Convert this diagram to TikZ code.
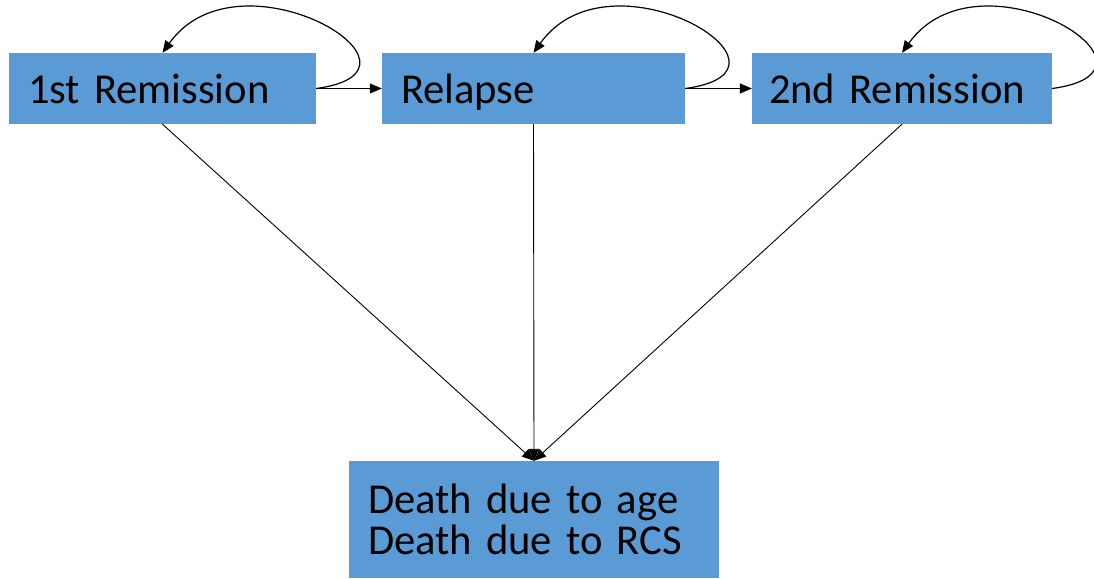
\documentclass[tikz,border=0pt]{standalone}
\usepackage{fontspec}
\setmainfont{Carlito}
\usetikzlibrary{arrows.meta}
\definecolor{boxblue}{HTML}{5B9BD5}
\tikzset{
  state/.style={fill=boxblue, draw=none, minimum height=71pt, inner xsep=19pt, inner ysep=0pt,
    text width=#1, align=left, font=\fontsize{42.6}{41}\selectfont, anchor=center},
  oneline/.style={text height=30pt, text depth=1pt},
  conn/.style={line width=1.2pt, -{Triangle[length=12pt,width=10pt]}},
  thin/.style={line width=0.9pt, -{Triangle[length=12pt,width=10pt]}}
}
\begin{document}
\begin{tikzpicture}[x=1pt,y=-1pt]
\useasboundingbox (0,0) rectangle (1094,578);
\node[state=269pt, oneline] (b1) at (162.5,88.5) {1st Remission};
\node[state=265pt, oneline] (b2) at (533.5,88.5) {Relapse};
\node[state=266pt, oneline, inner xsep=17pt] (b3) at (902,88.5) {2nd Remission};
\node[state=332pt, minimum height=117pt] (b4) at (534,519.5) {Death due to age\\Death due to RCS};
\draw[conn] (b1.east) -- (b2.west);
\draw[conn] (b2.east) -- (b3.west);
\draw[conn] (b1.east) .. controls +(134,-18) and +(77,-108) .. (b1.north);
\draw[conn] (b2.east) .. controls +(134,-18) and +(77,-108) .. (b2.north);
\draw[conn] (b3.east) .. controls +(134,-18) and +(77,-108) .. (b3.north);
\draw[thin] (b1.south) -- (b4.north);
\draw[thin] (b2.south) -- (b4.north);
\draw[thin] (b3.south) -- (b4.north);
\end{tikzpicture}
\end{document}
